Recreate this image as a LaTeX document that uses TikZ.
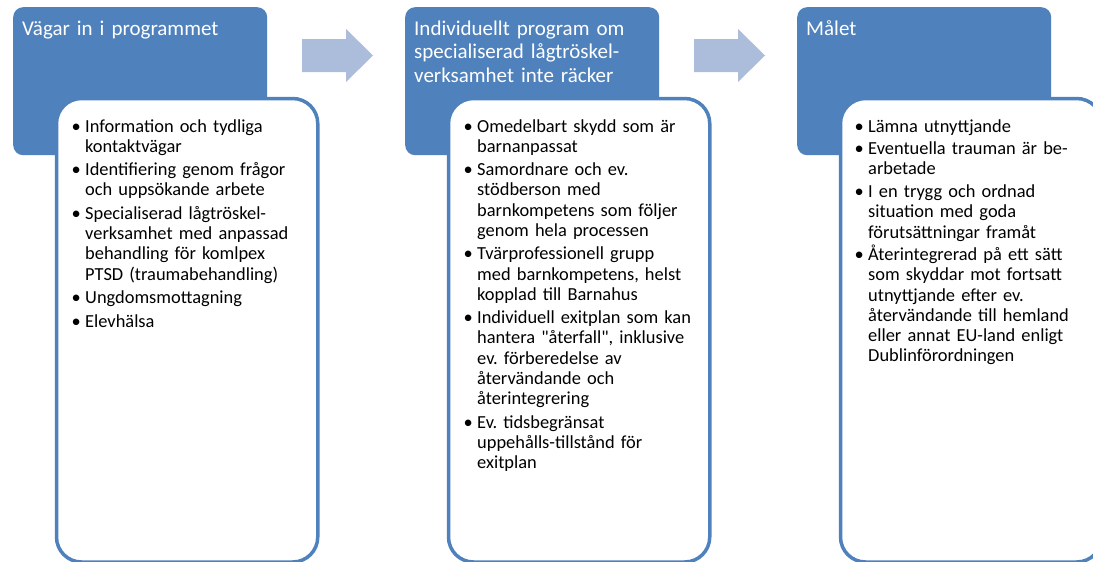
\documentclass[tikz,border=0pt]{standalone}
\usepackage{fontspec}
\setmainfont{Carlito}[Ligatures=TeXOff]
\frenchspacing
\definecolor{boxblue}{RGB}{79,129,189}
\definecolor{arrowblue}{RGB}{171,189,219}
\newcommand\bitem[1]{\hangindent=13.5pt\hangafter=1\noindent\makebox[13.5pt][l]{•}#1\par}
\tikzset{
  bluebox/.style={fill=boxblue, draw=none, rounded corners=10pt, anchor=north west,
    minimum width=254pt, minimum height=148pt, inner sep=0pt},
  whitebox/.style={fill=white, draw=boxblue, line width=3.5pt, rounded corners=25pt,
    anchor=north west, minimum width=261.25pt, minimum height=463.5pt, inner sep=0pt},
  titletext/.style={anchor=base west, inner sep=0pt, text=white, text width=245pt, align=left,
    font=\fontsize{21}{23.5}\selectfont},
  bodytext/.style={anchor=base west, inner sep=0pt, text=black, text width=245pt,
    font=\fontsize{18.4}{20.2}\selectfont},
  blockarrow/.style={fill=arrowblue, draw=none}
}
\begin{document}
\begin{tikzpicture}[x=1pt,y=-1pt]
\useasboundingbox (0,0) rectangle (1093,562);
\clip (0,0) rectangle (1093,562);
% column 1
\node[bluebox] (b1) at (13,7) {};
\node[titletext] (t1) at (22,35) {Vägar in i programmet};
\node[whitebox] (w1) at (54.75,96.75) {};
\node[bodytext] (l1) at (71.5,132) {\setlength\parskip{3.3pt}%
\bitem{Information och tydliga\newline kontaktvägar}%
\bitem{Identifiering genom frågor\newline och uppsökande arbete}%
\bitem{Specialiserad lågtröskel-\newline verksamhet med anpassad\newline behandling för komlpex\newline PTSD (traumabehandling)}%
\bitem{Ungdomsmottagning}%
\bitem{Elevhälsa}};
% column 2
\node[bluebox] (b2) at (405,7) {};
\node[titletext] (t2) at (414,35) {Individuellt program om\\specialiserad lågtröskel-\\verksamhet inte räcker};
\node[whitebox] (w2) at (446.75,96.75) {};
\node[bodytext] (l2) at (463.5,132) {\setlength\parskip{3.3pt}%
\bitem{Omedelbart skydd som är\newline barnanpassat}%
\bitem{Samordnare och ev.\newline stödberson med\newline barnkompetens som följer\newline genom hela processen}%
\bitem{Tvärprofessionell grupp\newline med barnkompetens, helst\newline kopplad till Barnahus}%
\bitem{Individuell exitplan som kan\newline hantera "återfall", inklusive\newline ev. förberedelse av\newline återvändande och\newline återintegrering}%
\bitem{Ev. tidsbegränsat\newline uppehålls-tillstånd för\newline exitplan}};
% column 3
\node[bluebox] (b3) at (797,7) {};
\node[titletext] (t3) at (806,35) {Målet};
\node[whitebox] (w3) at (838.75,96.75) {};
\node[bodytext] (l3) at (854.5,132) {\setlength\parskip{2.5pt}%
\bitem{Lämna utnyttjande}%
\bitem{Eventuella trauman är be-\newline arbetade}%
\bitem{I en trygg och ordnad\newline situation med goda\newline förutsättningar framåt}%
\bitem{Återintegrerad på ett sätt\newline som skyddar mot fortsatt\newline utnyttjande efter ev.\newline återvändande till hemland\newline eller annat EU-land enligt\newline Dublinförordningen}};
% arrows
\fill[blockarrow] (302,39) -- (346,39) -- (346,29) -- (373,55.5) -- (346,82) -- (346,72) -- (302,72) -- cycle;
\fill[blockarrow] (694,39) -- (738,39) -- (738,29) -- (765,55.5) -- (738,82) -- (738,72) -- (694,72) -- cycle;
\end{tikzpicture}
\end{document}
